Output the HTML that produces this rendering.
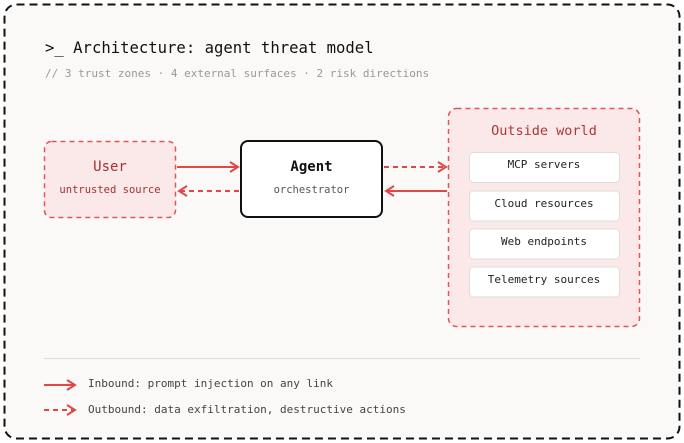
<!DOCTYPE html>
<html><head><meta charset="utf-8"><style>
html,body{margin:0;padding:0;background:#fff;}
svg{display:block;}
text{font-family:"DejaVu Sans Mono","Liberation Mono",monospace;}
</style></head><body>
<svg width="684" height="443" viewBox="0 0 684 443" xmlns="http://www.w3.org/2000/svg">
<defs>
<marker id="a" markerWidth="12" markerHeight="12" refX="9" refY="6" orient="auto" markerUnits="userSpaceOnUse">
<path d="M1,1 L9,6 L1,11" fill="none" stroke="#e04848" stroke-width="2"/>
</marker>
</defs>
<rect x="4.5" y="4.5" width="675" height="434" rx="12" fill="#faf9f7" stroke="#111" stroke-width="2" stroke-dasharray="8,5"/>
<text x="45" y="53" font-size="15.6" fill="#111">&gt;_ Architecture: agent threat model</text>
<text x="45" y="77" font-size="11" fill="#999">// 3 trust zones · 4 external surfaces · 2 risk directions</text>

<rect x="44.5" y="141.5" width="131" height="76" rx="7" fill="#fbe9e9" stroke="#e05555" stroke-width="1.5" stroke-dasharray="5,4"/>
<text x="110" y="171" font-size="14" fill="#a53030" text-anchor="middle">User</text>
<text x="110" y="193" font-size="10.5" fill="#a53030" text-anchor="middle">untrusted source</text>

<rect x="241" y="141" width="141" height="76" rx="7" fill="#fff" stroke="#111" stroke-width="2"/>
<text x="311.5" y="171" font-size="14" font-weight="bold" fill="#111" text-anchor="middle">Agent</text>
<text x="311.5" y="193" font-size="10.5" fill="#555" text-anchor="middle">orchestrator</text>

<line x1="177" y1="167" x2="238" y2="167" stroke="#e04848" stroke-width="2" marker-end="url(#a)"/>
<line x1="239" y1="191" x2="179" y2="191" stroke="#e04848" stroke-width="2" stroke-dasharray="5,4" marker-end="url(#a)"/>
<line x1="384" y1="167" x2="446" y2="167" stroke="#e04848" stroke-width="2" stroke-dasharray="5,4" marker-end="url(#a)"/>
<line x1="447" y1="191" x2="386" y2="191" stroke="#e04848" stroke-width="2" marker-end="url(#a)"/>

<rect x="448.5" y="108.5" width="191" height="218" rx="8" fill="#fbe9e9" stroke="#e05555" stroke-width="1.5" stroke-dasharray="5,4"/>
<text x="544" y="135" font-size="13.5" fill="#b03535" text-anchor="middle">Outside world</text>
<g font-size="11" fill="#222" text-anchor="middle">
<rect x="469.5" y="152.5" width="150" height="30" rx="4" fill="#fff" stroke="#ddd"/>
<text x="544" y="168">MCP servers</text>
<rect x="469.5" y="191" width="150" height="30" rx="4" fill="#fff" stroke="#ddd"/>
<text x="544" y="207">Cloud resources</text>
<rect x="469.5" y="229" width="150" height="30" rx="4" fill="#fff" stroke="#ddd"/>
<text x="544" y="245">Web endpoints</text>
<rect x="469.5" y="267" width="150" height="30" rx="4" fill="#fff" stroke="#ddd"/>
<text x="544" y="283">Telemetry sources</text>
</g>

<line x1="44" y1="358.5" x2="640" y2="358.5" stroke="#ddddd5" stroke-width="1"/>
<line x1="44" y1="385" x2="75" y2="385" stroke="#e04848" stroke-width="2" marker-end="url(#a)"/>
<text x="88" y="387" font-size="11" fill="#444">Inbound: prompt injection on any link</text>
<line x1="44" y1="410" x2="75" y2="410" stroke="#e04848" stroke-width="2" stroke-dasharray="5,4" marker-end="url(#a)"/>
<text x="88" y="413" font-size="11" fill="#444">Outbound: data exfiltration, destructive actions</text>
</svg>
</body></html>
